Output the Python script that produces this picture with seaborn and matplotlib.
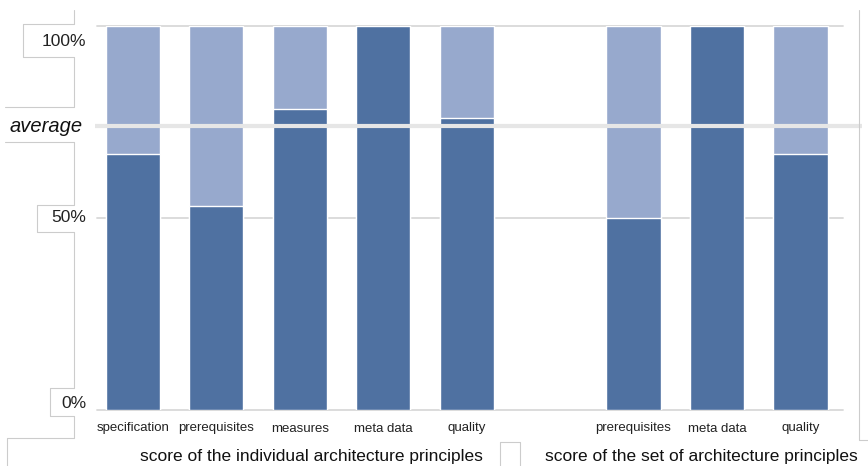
import matplotlib
matplotlib.use("Agg")
import matplotlib.pyplot as plt
from matplotlib.lines import Line2D
from matplotlib.transforms import blended_transform_factory
import seaborn as sns
import pandas as pd

# ---- data -------------------------------------------------------------
categories = ["specification", "prerequisites", "measures", "meta data", "quality",
              "prerequisites", "meta data", "quality"]
slots = [0, 1, 2, 3, 4, 6, 7, 8]          # slot 5 left empty between the two groups
scores = [0.667, 0.53, 0.785, 1.00, 0.76, 0.50, 1.00, 0.667]
full = [1.0] * len(scores)
average = 0.74
y_ticks = [0.0, 0.5, 1.0]
y_labels = ["0%", "50%", "100%"]
group_titles = ["score of the individual architecture principles",
                "score of the set of architecture principles"]

DARK = "#4f71a1"
LIGHT = "#97a9cd"
GRID = "#d9d9d9"
FRAME = "#cccccc"

sns.set_style("white")
plt.rcParams["font.family"] = ["Liberation Sans", "DejaVu Sans"]

W, H = 868, 466
fig = plt.figure(figsize=(W / 100, H / 100), dpi=100)
ax = fig.add_axes([97 / W, (H - 410) / H, (843 - 97) / W, 384 / H])

df = pd.DataFrame({"slot": slots, "score": scores, "full": full, "cat": categories})

# light background bar spanning the whole scale, dark score bar on top
sns.barplot(data=df, x="slot", y="full", native_scale=True, width=0.65,
            color=LIGHT, saturation=1, edgecolor="white", linewidth=1.0, ax=ax, zorder=2)
sns.barplot(data=df, x="slot", y="score", native_scale=True, width=0.65,
            color=DARK, saturation=1, edgecolor="white", linewidth=1.0, ax=ax, zorder=3)

ax.set_xlim(-0.43, 8.51)
ax.set_ylim(0, 1)
for t in y_ticks:
    ax.axhline(t, color=GRID, lw=1.3, zorder=1, clip_on=False)
ax.set_yticks([])
ax.set_xticks(slots)
ax.set_xticklabels(categories, fontsize=9.5, color="#222222")
ax.tick_params(axis="x", length=0, pad=9)
ax.set_xlabel("")
ax.set_ylabel("")
for s in ax.spines.values():
    s.set_visible(False)

# average line runs across the full width of the chart
tr = blended_transform_factory(fig.transFigure, ax.transData)
ax.plot([95 / W, 862 / W], [average, average], transform=tr, color="#e6e6e6",
        lw=3.0, clip_on=False, zorder=5, solid_capstyle="butt")

def fx(px):
    return px / W

def fy(py):
    return 1 - py / H

fig.text(fx(10), fy(126), "average", fontsize=14.5, style="italic",
         ha="left", va="center", color="#111111")

label_y = {"100%": 41, "50%": 218, "0%": 403}
for lab in y_labels:
    fig.text(fx(86), fy(label_y[lab]), lab, fontsize=12.5, ha="right",
             va="center", color="#222222")

fig.text(fx(311), fy(456), group_titles[0], fontsize=12.5, ha="center",
         va="center", color="#111111")
fig.text(fx(701), fy(456), group_titles[1], fontsize=12.5, ha="center",
         va="center", color="#111111")

# frames around the text boxes on the left
def seg(xs, ys):
    fig.add_artist(Line2D([fx(x) for x in xs], [fy(y) for y in ys],
                          color=FRAME, lw=0.8))

seg([74, 74, 23, 23, 74, 74, 5], [10, 24, 24, 57, 57, 107, 107])
seg([5, 74, 74, 37, 37, 74, 74, 50, 50, 74, 74, 7, 7],
    [142, 142, 205, 205, 232, 232, 388, 388, 416, 416, 438, 438, 466])
seg([500, 500, 520, 520], [466, 442, 442, 466])
seg([859, 859, 868], [10, 440, 440])

fig.savefig("out.png", dpi=100)
